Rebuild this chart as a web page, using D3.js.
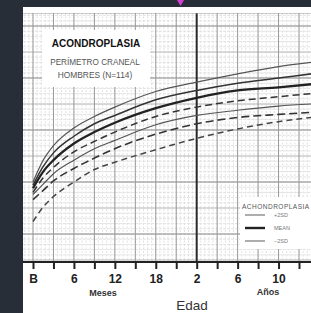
<!DOCTYPE html>
<html><head><meta charset="utf-8">
<script src="https://cdn.jsdelivr.net/npm/d3@7/dist/d3.min.js"></script>
<style>html,body{margin:0;padding:0;background:#272e37;}svg{display:block;}</style>
</head><body>
<script>
// ---- data ----
const tickLabels = ["B","","6","","12","","18","","2","","6","","10",""];
const ageIndex = [0,0.5,1,2,3,4,6,8,10,12,13.6];
const achonPlus2SD = [35.0,37.1,38.5,40.2,41.3,42.2,43.7,44.6,45.4,46.1,46.5];
const achonPlus1SD = [34.7,36.5,37.8,39.4,40.6,41.4,42.9,43.8,44.5,45.0,45.4];
const achonMean    = [34.4,36.0,37.1,38.7,39.8,40.7,42.1,43.1,43.8,44.1,44.4];
const normalPlus2SD= [34.0,35.4,36.4,37.9,38.9,39.8,41.3,42.2,42.8,43.2,43.5];
const achonMinus2SD= [33.8,34.8,35.8,37.1,38.2,39.0,40.5,41.4,41.9,42.3,42.5];
const normalMean   = [33.3,34.2,35.1,36.3,37.3,38.2,39.6,40.6,41.2,41.5,41.7];
const normalMinus2SD=[31.2,32.6,33.6,35.0,36.2,36.9,38.1,39.2,40.1,40.8,41.2];
const legendLabels = ["+2SD","MEAN","\u22122SD"];

(function(){
const W=311,H=313;
const FONT="Liberation Sans, Arial, sans-serif";
const svg=d3.select("body").append("svg").attr("width",W).attr("height",H);
svg.append("rect").attr("width",W).attr("height",H).attr("fill","#272e37");
svg.append("rect").attr("x",23).attr("y",7).attr("width",W-23).attr("height",H-7).attr("fill","#ffffff");
svg.append("path").attr("d","M177,0L184,0L180.5,6Z").attr("fill","#d63cd6");

const x=d3.scaleLinear().domain([0,13]).range([33,299]);
const y=d3.scaleLinear().domain([30,50]).range([234,26]);
const gL=23,gR=W,gT=13,gB=262;

const g=svg.append("g");
g.append("clipPath").attr("id","clip").append("rect").attr("x",gL).attr("y",gT).attr("width",gR-gL).attr("height",gB-gT);
const grid=g.append("g").attr("clip-path","url(#clip)");
for(let v=-0.4; v<=13.8; v+=0.2){
  grid.append("line").attr("x1",x(v)).attr("x2",x(v)).attr("y1",gT).attr("y2",gB)
    .attr("stroke","#d9d9d9").attr("stroke-width",0.8).attr("stroke-dasharray","2,1.5");
}
for(let v=27; v<=52; v+=0.5){
  grid.append("line").attr("x1",gL).attr("x2",gR).attr("y1",y(v)).attr("y2",y(v))
    .attr("stroke","#dcdcdc").attr("stroke-width",0.8).attr("stroke-dasharray","3,1");
}
for(let v=25; v<=55; v+=2.5){
  grid.append("line").attr("x1",gL).attr("x2",gR).attr("y1",y(v)).attr("y2",y(v))
    .attr("stroke", v%5===0?"#8a8a8a":"#b8b8b8").attr("stroke-width", v%5===0?1.2:0.9);
}
for(let v=0; v<=14; v+=1){
  grid.append("line").attr("x1",x(v)).attr("x2",x(v)).attr("y1",gT).attr("y2",gB)
    .attr("stroke", v===8?"#2a2a2a":"#999").attr("stroke-width", v===8?2:1);
}
grid.append("line").attr("x1",gL).attr("x2",gR).attr("y1",gT).attr("y2",gT).attr("stroke","#999").attr("stroke-width",1.2);

svg.append("rect").attr("x",42).attr("y",30).attr("width",108).attr("height",57).attr("fill","#fff");
svg.append("text").attr("x",96).attr("y",47).attr("text-anchor","middle").attr("font-family",FONT)
  .attr("font-weight","bold").attr("font-size",10).attr("fill","#111").text("ACONDROPLASIA");
svg.append("text").attr("x",95).attr("y",65).attr("text-anchor","middle").attr("font-family",FONT)
  .attr("font-size",8.2).attr("fill","#555").text("PERÍMETRO CRANEAL");
svg.append("text").attr("x",95).attr("y",78).attr("text-anchor","middle").attr("font-family",FONT)
  .attr("font-size",8.4).attr("fill","#555").text("HOMBRES (N=114)");

const series=[
  {v:achonPlus2SD,w:1.2,c:"#555",dash:null},
  {v:achonPlus1SD,w:1.5,c:"#333",dash:null},
  {v:achonMean,w:2.3,c:"#222",dash:null},
  {v:normalPlus2SD,w:1.5,c:"#333",dash:"7,4"},
  {v:achonMinus2SD,w:1.2,c:"#555",dash:null},
  {v:normalMean,w:1.6,c:"#333",dash:"8,4"},
  {v:normalMinus2SD,w:1.5,c:"#444",dash:"6,4"}
];
const line=d3.line().x((d,i)=>x(ageIndex[i])).y(d=>y(d)).curve(d3.curveMonotoneX);
const cg=g.append("g").attr("clip-path","url(#clip)");
series.forEach(s=>{
  cg.append("path").attr("d",line(s.v)).attr("fill","none").attr("stroke",s.c)
    .attr("stroke-width",s.w).attr("stroke-dasharray",s.dash);
});

svg.append("rect").attr("x",240).attr("y",197).attr("width",71).attr("height",52).attr("fill","#fff");
svg.append("text").attr("x",242).attr("y",209).attr("font-family",FONT)
  .attr("font-size",6.5).attr("letter-spacing",0.5).attr("fill","#555").text("ACHONDROPLASIA");
const lw=[1.2,2.4,1.2];
legendLabels.forEach((t,i)=>{
  const ly=215+i*13;
  svg.append("line").attr("x1",245).attr("x2",265).attr("y1",ly).attr("y2",ly).attr("stroke",i===1?"#222":"#777").attr("stroke-width",lw[i]);
  svg.append("text").attr("x",274).attr("y",ly+2).attr("font-family",FONT)
    .attr("font-size",5.5).attr("fill","#777").text(t);
});

svg.append("line").attr("x1",gL).attr("x2",gR).attr("y1",gB).attr("y2",gB).attr("stroke","#222").attr("stroke-width",2);
const ax=svg.append("g").attr("transform",`translate(0,${gB})`)
  .call(d3.axisBottom(x).tickValues(d3.range(14)).tickFormat(i=>tickLabels[i]).tickSize(7).tickPadding(5));
ax.select(".domain").remove();
ax.selectAll(".tick line").attr("stroke","#222").attr("stroke-width",2);
ax.selectAll(".tick text").attr("font-family",FONT).attr("font-weight","bold")
  .attr("font-size",12).attr("fill","#222");
svg.append("text").attr("x",103).attr("y",296).attr("text-anchor","middle").attr("font-family",FONT)
  .attr("font-weight","bold").attr("font-size",9).attr("fill","#333").text("Meses");
svg.append("text").attr("x",268).attr("y",295).attr("text-anchor","middle").attr("font-family",FONT)
  .attr("font-weight","bold").attr("font-size",9).attr("fill","#333").text("Años");
svg.append("text").attr("x",192).attr("y",310).attr("text-anchor","middle").attr("font-family",FONT)
  .attr("font-size",13.5).attr("fill","#333").text("Edad");
})();
</script>
</body></html>
